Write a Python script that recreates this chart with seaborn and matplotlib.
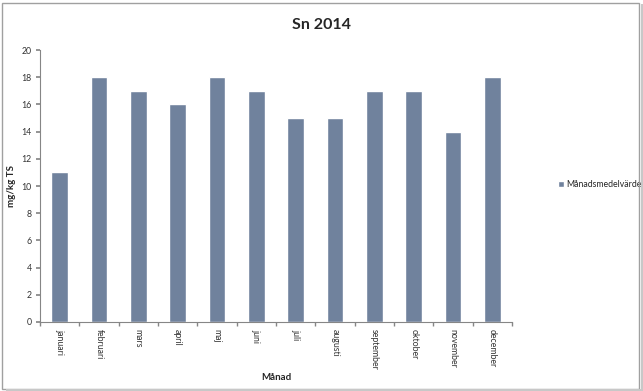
import numpy as np
import pandas as pd
import matplotlib
matplotlib.use('Agg')
import matplotlib.pyplot as plt
import seaborn as sns
from matplotlib.patches import Rectangle

# Data
months = ['januari', 'februari', 'mars', 'april', 'maj', 'juni', 'juli',
          'augusti', 'september', 'oktober', 'november', 'december']
values = [11, 18, 17, 16, 18, 17, 15, 15, 17, 17, 14, 18]
series_name = 'Månadsmedelvärde'

df = pd.DataFrame({'Månad': months, 'Värde': values, 'Serie': series_name})

sns.set_theme(style='white')
plt.rcParams['font.family'] = ['Lato', 'DejaVu Sans']

bar_color = '#70829D'
axis_color = '#868686'

fig = plt.figure(figsize=(6.43, 3.91), dpi=100)
ax = fig.add_axes([0.0622, 0.1765, 0.7340, 0.6955])

sns.barplot(data=df, x='Månad', y='Värde', hue='Serie', palette=[bar_color],
            width=0.42, ax=ax, saturation=1, legend=True)

ax.set_ylim(0, 20)
ax.set_yticks(range(0, 21, 2))
ax.set_xlim(-0.5, len(months) - 0.5)

ax.tick_params(axis='y', labelsize=6.3, length=3, color=axis_color, left=True, pad=3, labelcolor='#333333')
ax.tick_params(axis='x', which='major', labelsize=6.3, length=0, rotation=270, pad=5, labelcolor='#333333')
ax.set_xticks(np.arange(-0.5, len(months)), minor=True)
ax.tick_params(axis='x', which='minor', length=3, color=axis_color, bottom=True)

for side in ['top', 'right']:
    ax.spines[side].set_visible(False)
for side in ['left', 'bottom']:
    ax.spines[side].set_color(axis_color)
    ax.spines[side].set_linewidth(0.8)

ax.set_xlabel('Månad', fontsize=7, fontweight='bold', labelpad=2)
ax.set_ylabel('mg/kg TS', fontsize=7, fontweight='bold', labelpad=4)

fig.suptitle('Sn 2014', x=0.5, y=0.955, fontsize=11.5, fontweight='bold')

leg = ax.legend(loc='center left', bbox_to_anchor=(1.08, 0.505), frameon=False,
                fontsize=6.3, handlelength=0.7, handleheight=0.7, handletextpad=0.3)

# figure border
fig.patches.append(Rectangle((0.003, 0.006), 0.991, 0.986, transform=fig.transFigure,
                             fill=False, edgecolor='#A0A0A0', linewidth=1.0))
fig.patches.append(Rectangle((0.997, 0.0), 0.003, 0.99, transform=fig.transFigure,
                             facecolor='#C8C8C8', edgecolor='none'))
fig.patches.append(Rectangle((0.01, 0.0), 0.99, 0.005, transform=fig.transFigure,
                             facecolor='#C8C8C8', edgecolor='none'))

fig.savefig('out.png', dpi=100)
